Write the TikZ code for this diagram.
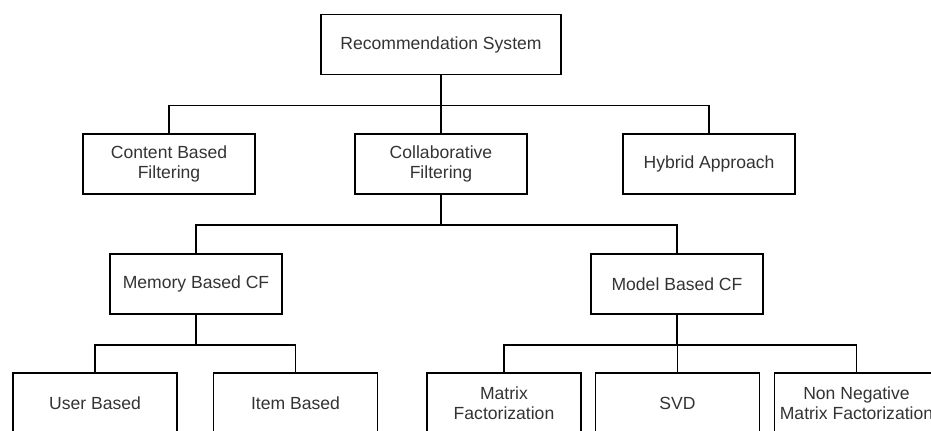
\documentclass[tikz,border=0pt]{standalone}
\usepackage{fontspec}
\setmainfont{Liberation Sans}
\tikzset{
  box/.style={draw, line width=1.1pt, minimum width=3.44cm, minimum height=1.2cm,
    align=center, inner sep=0pt, text=black!80,
    font=\fontsize{10}{11.5}\selectfont},
  leaf/.style={box, minimum width=3.28cm},
  tree/.style={line width=0.8pt, to path={-- ++(0,30) -| (\tikztotarget)}}
}

\begin{document}
\begin{tikzpicture}[x=0.02cm, y=-0.02cm]
    \useasboundingbox (0,0) rectangle (931,431);
    \clip (0,0) rectangle (931,431);
    \node[box, minimum width=4.8cm] (rs) at (441,44.5) {Recommendation System};
    \node[box] (cbf) at (169,164) {Content Based\\Filtering};
    \node[box] (cf) at (441,164) {Collaborative\\Filtering};
    \node[box] (hyb) at (709,164) {Hybrid Approach};
    \node[box] (mem) at (196,284) {Memory Based CF};
    \node[box] (mod) at (677,284) {Model Based CF};
    \node[leaf] (user) at (95,403) {User Based};
    \node[leaf] (item) at (295.5,403) {Item Based};
    \node[leaf, minimum width=3.07cm] (mf) at (504,403) {Matrix\\Factorization};
    \node[leaf] (svd) at (677.5,403) {SVD};
    \node[leaf] (nmf) at (856.5,403) {Non Negative\\Matrix Factorization};
    \draw[tree] (rs.south) edge (cbf.north) edge (cf.north) edge (hyb.north);
    \draw[tree] (cf.south) edge (mem.north) edge (mod.north);
    \draw[tree] (mem.south) edge (user.north) edge (item.north);
    \draw[tree] (mod.south) edge (mf.north) edge (svd.north) edge (nmf.north);
\end{tikzpicture}
\end{document}
